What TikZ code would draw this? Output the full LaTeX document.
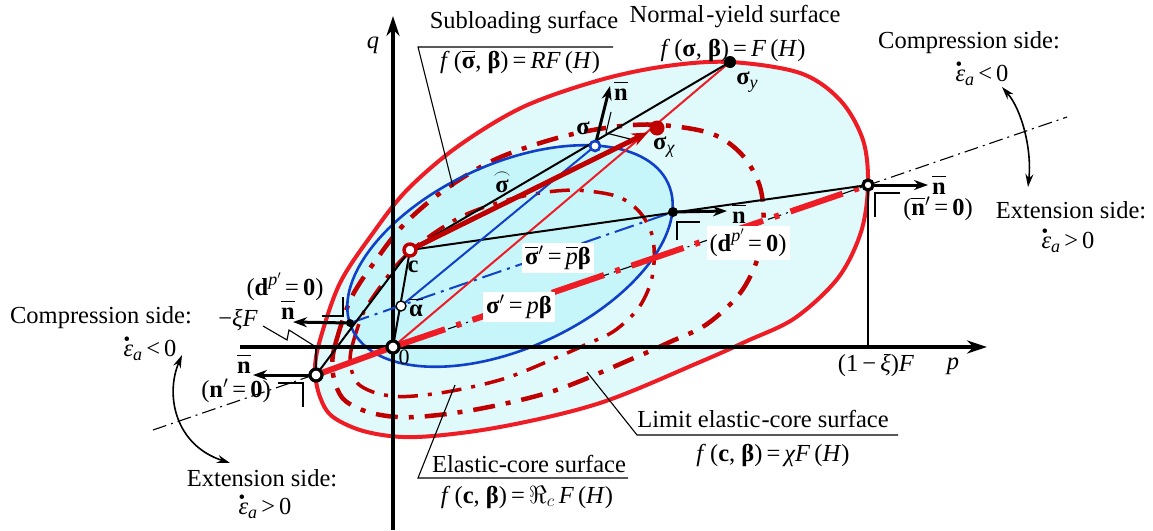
\documentclass[tikz,border=0pt]{standalone}
\usepackage{fontspec}
\setmainfont{Liberation Serif}
\usepackage{graphicx}
\usetikzlibrary{arrows.meta}
\definecolor{nyred}{RGB}{238,28,36}
\definecolor{dkred}{RGB}{192,0,0}
\definecolor{subblue}{RGB}{16,64,200}
\definecolor{fillout}{RGB}{224,249,251}
\definecolor{fillin}{RGB}{198,246,250}
\newcommand\bb[1]{\textbf{#1}}
\newcommand\ii[1]{\textit{#1}}
\newcommand\ovl[1]{$\overline{\vphantom{\hbox{T}}\hbox{#1}}$}
\newcommand\lsub[1]{\raisebox{-0.35ex}{\fontsize{18}{18}\selectfont #1}}
\newcommand\hsup[1]{\raisebox{0.9ex}{\fontsize{18}{18}\selectfont #1}}
\newcommand\edot{\ooalign{\ii{ε}\cr\hidewidth\raisebox{0.42em}[0pt][0pt]{\fontsize{19}{19}\selectfont •}\kern0.12em\hidewidth\cr}}
\newcommand\prm{$'$}
\newcommand\NYcurve{plot[smooth cycle,tension=0.55] coordinates {(315,370) (320,340) (340,283) (373,233) (407,190) (457,147) (523,107) (600,80) (667,66) (730,62) (800,73) (840,100) (863,140) (868,185) (861,232) (838,278) (795,318) (747,341) (700,362) (600,403) (500,427) (417,437) (367,432) (333,417) (320,397)}}
\tikzset{
  lbl/.style={font=\fontsize{24.5}{28}\selectfont, inner sep=0pt},
  wbox/.style={lbl, fill=white, inner sep=3pt},
  thinblk/.style={line width=1.1pt, black},
  conn/.style={line width=2pt},
  axisln/.style={line width=3.6pt, -{Stealth[length=20pt,width=13pt]}},
  narrow/.style={line width=3pt, -{Stealth[length=14pt,width=10pt]}},
  dblarrow/.style={line width=1.6pt, {Stealth[length=13pt,width=8pt]}-{Stealth[length=13pt,width=8pt]}},
  limitcore/.style={dkred, line width=4.5pt, dash pattern=on 22pt off 11pt on 5pt off 11pt},
  elcore/.style={dkred, line width=3.5pt, dash pattern=on 20pt off 10pt on 4pt off 10pt},
  ring/.style={circle, draw=black, fill=white, line width=3.2pt, inner sep=0pt, minimum size=12pt},
  dotblk/.style={circle, fill=black, inner sep=0pt, minimum size=#1},
}
\begin{document}
\begin{tikzpicture}[x=1pt,y=-1pt]
\useasboundingbox (0,0) rectangle (1153,530);
% named points
\coordinate (O) at (393,347);
\coordinate (c) at (410,250);
\coordinate (al) at (401,306);
\coordinate (sg) at (595,146);
\coordinate (sx) at (657,128);
\coordinate (sy) at (730,62);
\coordinate (dR) at (673,212);
\coordinate (dL) at (350,323);
\coordinate (nR) at (868,185);
\coordinate (nL) at (316,375);
\coordinate (xiF) at (316,347);
\coordinate (pE) at (868,347);
\coordinate (bL) at (153,430);
\coordinate (bR) at (1067,117);
\coordinate (pa0) at (240,347);
\coordinate (pa1) at (987,347);
\coordinate (qa0) at (393,530);
\coordinate (qa1) at (393,16);
\coordinate (nA) at (610,86);
\coordinate (nB) at (727,211);
\coordinate (nC) at (928,185);
\coordinate (nD) at (293,322);
\coordinate (nE) at (253,375);
% fills
\fill[fillout] \NYcurve;
\fill[fillin, rotate around={24.7:(510,256)}] (510,256) ellipse [x radius=174, y radius=92];
% elastic-core surfaces
\begin{scope}[scale around={0.78:(393,347)}]
  \draw[limitcore] \NYcurve;
\end{scope}
\begin{scope}[scale around={0.55:(393,347)}]
  \draw[elcore] \NYcurve;
\end{scope}
% subloading and normal-yield outlines
\draw[subblue, line width=2.6pt, rotate around={24.7:(510,256)}] (510,256) ellipse [x radius=174, y radius=92];
\draw[nyred, line width=4pt] \NYcurve;
% axes
\draw[axisln] (pa0) -- (pa1);
\draw[axisln] (qa0) -- (qa1);
% beta axis
\draw[thinblk, dash pattern=on 14pt off 5pt on 2pt off 5pt] (bL) -- (bR);
\draw[nyred, line width=6pt] (nL) -- (O);
\draw[nyred, line width=6pt, dash pattern=on 55pt off 12pt on 5pt off 12pt] (O) -- (nR);
\draw[subblue, line width=2pt, dash pattern=on 20pt off 6pt on 3pt off 6pt] (dL) -- (dR);
% connectors
\draw[conn, nyred] (O) -- (sy);
\draw[conn] (c) -- (sy);
\draw[conn] (c) -- (nR);
\draw[conn] (c) -- (nL);
\draw[conn] (c) -- (O);
\draw[conn, subblue] (al) -- (sg);
\draw[line width=5pt, dkred, -{Stealth[length=16pt,width=13pt]}, shorten >=10pt] (c) -- (sx);
\draw[thinblk] (nR) -- (pE);
\draw[thinblk] (xiF) -- (nL);
% normal arrows
\draw[narrow] (sg) -- (nA);
\draw[narrow] (dR) -- (nB);
\draw[narrow] (nR) -- (nC);
\draw[narrow] (dL) -- (nD);
\draw[narrow] (nL) -- (nE);
% right-angle marks
\draw[thinblk] (611,112) -- (606,133) -- (630,139);
\draw[thinblk] (677,240) -- (677,222) -- (700,222);
\draw[thinblk] (875,217) -- (875,193) -- (900,193);
\draw[thinblk] (322,316) -- (343,316) -- (343,297);
\draw[thinblk] (278,383) -- (303,383) -- (303,407);
% points
\node[ring] (Oring) at (O) {};
\node[ring] (nLring) at (nL) {};
\node[ring, minimum size=10pt] (nRring) at (nR) {};
\node[circle, draw=dkred, fill=white, line width=3.4pt, inner sep=0pt, minimum size=12pt] (cring) at (c) {};
\node[circle, draw=black, fill=white, line width=1.4pt, inner sep=0pt, minimum size=10pt] (alring) at (al) {};
\node[circle, draw=subblue, fill=white, line width=2.6pt, inner sep=0pt, minimum size=10pt] (sgring) at (sg) {};
\node[circle, fill=dkred, inner sep=0pt, minimum size=15pt] (sxdot) at (sx) {};
\node[dotblk=12pt] (sydot) at (sy) {};
\node[dotblk=10pt] (dRdot) at (dR) {};
\node[dotblk=8pt] (dLdot) at (dL) {};
% leaders
\coordinate (subA) at (613,47); \coordinate (subB) at (418,47); \coordinate (subC) at (453,187);
\draw[thinblk] (subA) -- (subB) -- (subC);
\coordinate (limA) at (898,435); \coordinate (limB) at (637,435); \coordinate (limC) at (587,372);
\draw[thinblk] (limA) -- (limB) -- (limC);
\coordinate (ecA) at (628,478); \coordinate (ecB) at (418,478); \coordinate (ecC) at (455,385);
\draw[thinblk] (ecA) -- (ecB) -- (ecC);
\coordinate (zzA) at (263,326); \coordinate (zzB) at (287,340); \coordinate (zzC) at (289,330);
\draw[thinblk] (zzA) -- (zzB) -- (zzC) -- (xiF);
% curved double arrows
\coordinate (lcA) at (182,355); \coordinate (lcB) at (230,463);
\draw[dblarrow] (lcA) .. controls (165,395) and (175,445) .. (lcB);
\coordinate (rcA) at (1002,87); \coordinate (rcB) at (1028,187);
\draw[dblarrow] (rcA) .. controls (1022,110) and (1032,150) .. (rcB);
% labels
\node[lbl] (tSub) at (524,23) {Subloading surface};
\node[lbl] (fSub) at (520,62) {\ii{f}\,(\ovl{\bb{σ}},\ \bb{β})\,=\,\ii{RF}\,(\ii{H})};
\node[lbl] (tNY) at (735,17) {Normal\kern2pt-yield surface};
\node[lbl] (fNY) at (733,50) {\ii{f}\,(\bb{σ},\ \bb{β})\,=\,\ii{F}\,(\ii{H})};
\node[lbl] (lsy) at (747,82) {\bb{σ}\lsub{\ii{y}}};
\node[lbl] (lsx) at (664,147) {\bb{σ}\lsub{\ii{χ}}};
\node[lbl] (lsg) at (583,128) {\bb{σ}};
\node[lbl] (lnA) at (621,91) {\ovl{\bb{n}}};
\node[lbl] (lhat) at (502,182) {$\stackrel{\frown}{\hbox{\bb{σ}}}$};
\node[lbl] (lc) at (413,267) {\bb{c}};
\node[lbl] (lal) at (416,308) {\ovl{\bb{α}}};
\node[lbl, font=\fontsize{22}{24}\selectfont] (l0) at (404,357) {0};
\node[wbox] (lsb) at (558,258) {\ovl{\bb{σ}}\prm\,=\,\ovl{\ii{p}}\bb{β}};
\node[wbox] (lsp) at (519,307) {\bb{σ}\prm\,=\,\ii{p}\bb{β}};
\node[lbl] (lnB) at (739,214) {\ovl{\bb{n}}};
\node[wbox] (ldR) at (748,243) {(\bb{d}\hsup{\ii{p}\prm}\,=\,\bb{0})};
\node[lbl] (lnC) at (939,185) {\ovl{\bb{n}}};
\node[lbl] (lnRz) at (938,209) {(\ovl{\bb{n}}\prm\,=\,\bb{0})};
\node[lbl] (lxi1) at (876,366) {(1\,−\,\ii{ξ})\ii{F}};
\node[lbl] (lp) at (953,366) {\ii{p}};
\node[lbl] (lq) at (373,45) {\ii{q}};
\node[lbl] (tCR) at (969,43) {Compression side:};
\node[lbl] (eCR) at (982,75) {\edot\lsub{\ii{a}}\,<\,0};
\node[lbl] (tER) at (1071,210) {Extension side:};
\node[lbl] (eER) at (1068,242) {\edot\lsub{\ii{a}}\,>\,0};
\node[lbl] (tCL) at (101,318) {Compression side:};
\node[lbl] (eCL) at (150,350) {\edot\lsub{\ii{a}}\,<\,0};
\node[lbl] (tEL) at (262,478) {Extension side:};
\node[lbl] (eEL) at (265,508) {\edot\lsub{\ii{a}}\,>\,0};
\node[lbl] (lxiF) at (238,320) {−\ii{ξF}};
\node[lbl] (ldL) at (285,287) {(\bb{d}\hsup{\ii{p}\prm}\,=\,\bb{0})};
\node[lbl] (lnD) at (288,310) {\ovl{\bb{n}}};
\node[lbl] (lnE) at (244,364) {\ovl{\bb{n}}};
\node[lbl] (lnLz) at (236,391) {(\bb{n}\prm\,=\,\bb{0})};
\node[lbl] (tLim) at (763,419) {Limit elastic\kern1pt-core surface};
\node[lbl] (fLim) at (773,455) {\ii{f}\,(\bb{c},\ \bb{β})\,=\,\ii{χF}\,(\ii{H})};
\node[lbl] (tEC) at (529,464) {Elastic-core surface};
\node[lbl] (fEC) at (527,497) {\ii{f}\,(\bb{c},\ \bb{β})\,=\,$\Re_{c}$\,\ii{F}\,(\ii{H})};
\end{tikzpicture}
\end{document}
